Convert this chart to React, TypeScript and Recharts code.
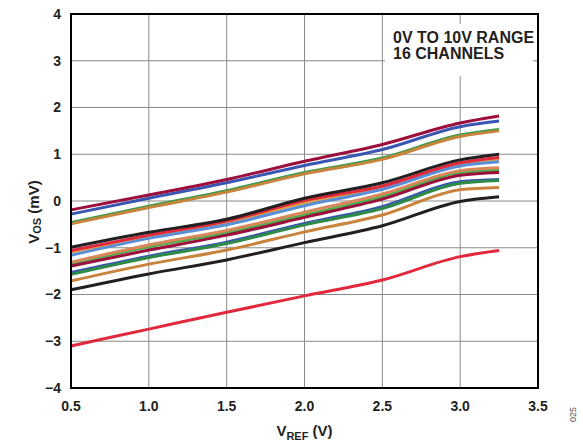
import React from "react";
import {
  LineChart,
  Line,
  XAxis,
  YAxis,
  CartesianGrid,
  ReferenceArea,
} from "recharts";

// VREF sample points (V)
const vref = [0.5, 1.0, 1.5, 2.0, 2.5, 3.0, 3.25];

const xTicks = [0.5, 1.0, 1.5, 2.0, 2.5, 3.0, 3.5];
const yTicks = [-4, -3, -2, -1, 0, 1, 2, 3, 4];

// VOS per channel (mV)
const ch01 = [-0.19, 0.13, 0.46, 0.85, 1.21, 1.67, 1.82];
const ch02 = [-0.28, 0.06, 0.39, 0.76, 1.1, 1.59, 1.71];
const ch03 = [-0.46, -0.11, 0.22, 0.61, 0.92, 1.41, 1.53];
const ch04 = [-0.49, -0.14, 0.19, 0.58, 0.89, 1.38, 1.5];
const ch05 = [-0.99, -0.67, -0.39, 0.06, 0.39, 0.88, 1.0];
const ch06 = [-1.09, -0.76, -0.46, -0.04, 0.29, 0.79, 0.9];
const ch07 = [-1.06, -0.73, -0.43, 0.01, 0.32, 0.82, 0.93];
const ch08 = [-1.16, -0.8, -0.51, -0.1, 0.25, 0.75, 0.84];
const ch09 = [-1.31, -0.94, -0.63, -0.24, 0.15, 0.65, 0.71];
const ch10 = [-1.35, -0.98, -0.68, -0.3, 0.09, 0.61, 0.66];
const ch11 = [-1.39, -1.05, -0.73, -0.35, 0.04, 0.55, 0.61];
const ch12 = [-1.53, -1.18, -0.88, -0.48, -0.12, 0.41, 0.46];
const ch13 = [-1.57, -1.21, -0.91, -0.51, -0.16, 0.38, 0.44];
const ch14 = [-1.71, -1.35, -1.05, -0.66, -0.3, 0.24, 0.29];
const ch15 = [-1.9, -1.56, -1.26, -0.89, -0.53, -0.01, 0.09];
const ch16 = [-3.1, -2.74, -2.38, -2.03, -1.69, -1.19, -1.06];

// draw order: bottom first
const channels = [
  { key: "ch03", values: ch03, color: "#3f9a4c" },
  { key: "ch04", values: ch04, color: "#c8843c" },
  { key: "ch02", values: ch02, color: "#3a56b2" },
  { key: "ch01", values: ch01, color: "#9c0e3b" },
  { key: "ch06", values: ch06, color: "#e0a040" },
  { key: "ch08", values: ch08, color: "#5b8ed6" },
  { key: "ch07", values: ch07, color: "#e2283c" },
  { key: "ch05", values: ch05, color: "#231f20" },
  { key: "ch10", values: ch10, color: "#4cae4c" },
  { key: "ch09", values: ch09, color: "#d9865a" },
  { key: "ch11", values: ch11, color: "#9c0e3b" },
  { key: "ch12", values: ch12, color: "#3a56b2" },
  { key: "ch13", values: ch13, color: "#2e8b47" },
  { key: "ch14", values: ch14, color: "#c8843c" },
  { key: "ch15", values: ch15, color: "#231f20" },
  { key: "ch16", values: ch16, color: "#e2283c" },
];

const data = vref.map((x, i) => {
  const row: Record<string, number> = { x };
  channels.forEach((c) => {
    row[c.key] = c.values[i];
  });
  return row;
});

const FONT = "'Liberation Sans', Arial, sans-serif";

const fmtY = (v: number) => (v < 0 ? `\u2212${Math.abs(v)}` : `${v}`);

function YLabel(props: any) {
  const { viewBox } = props;
  const cx = 33;
  const cy = viewBox.y + viewBox.height / 2 + 11;
  return (
    <text
      x={cx}
      y={cy}
      transform={`rotate(-90 ${cx} ${cy})`}
      textAnchor="middle"
      dominantBaseline="central"
      fontFamily={FONT}
      fontWeight="bold"
      fontSize={15}
      fill="#231f20"
    >
      <tspan>V</tspan>
      <tspan fontSize={11} dy={4}>
        OS
      </tspan>
      <tspan dy={-4}> (mV)</tspan>
    </text>
  );
}

function XLabel(props: any) {
  const { viewBox } = props;
  const cx = viewBox.x + viewBox.width / 2;
  const cy = 436;
  return (
    <text
      x={cx}
      y={cy}
      textAnchor="middle"
      fontFamily={FONT}
      fontWeight="bold"
      fontSize={15}
      fill="#231f20"
    >
      <tspan>V</tspan>
      <tspan fontSize={11} dy={4}>
        REF
      </tspan>
      <tspan dy={-4}> (V)</tspan>
    </text>
  );
}

export default function App() {
  return (
    <div
      style={{
        position: "absolute",
        left: 0,
        top: 0,
        width: 583,
        height: 446,
        background: "#fff",
      }}
    >
      <LineChart
        width={583}
        height={446}
        data={data}
        margin={{ top: 14, right: 45, bottom: 0, left: 11 }}
      >
        <CartesianGrid stroke="#8a8a8a" strokeWidth={1} />
        <XAxis
          dataKey="x"
          type="number"
          domain={[0.5, 3.5]}
          ticks={xTicks}
          tickFormatter={(v: number) => v.toFixed(1)}
          height={58}
          tickLine={false}
          tickMargin={7}
          axisLine={{ stroke: "#000", strokeWidth: 2 }}
          tick={{ fill: "#231f20", fontSize: 14, fontWeight: "bold", fontFamily: FONT }}
          label={<XLabel />}
        />
        <YAxis
          type="number"
          domain={[-4, 4]}
          ticks={yTicks}
          tickFormatter={fmtY}
          width={60}
          tickLine={false}
          tickMargin={4}
          axisLine={{ stroke: "#000", strokeWidth: 2 }}
          tick={{ fill: "#231f20", fontSize: 14, fontWeight: "bold", fontFamily: FONT }}
          label={<YLabel />}
        />
        {channels.map((c) => (
          <Line
            key={c.key}
            dataKey={c.key}
            stroke={c.color}
            strokeWidth={3}
            type="monotone"
            dot={false}
            isAnimationActive={false}
          />
        ))}
        <ReferenceArea
          x1={0.5}
          x2={3.5}
          y1={-4}
          y2={4}
          fill="none"
          fillOpacity={0}
          stroke="#000"
          strokeWidth={2}
        />
      </LineChart>
      <div
        style={{
          position: "absolute",
          left: 385,
          top: 24,
          width: 148,
          height: 52,
          background: "#fff",
          fontFamily: FONT,
          fontWeight: "bold",
          fontSize: 16,
          lineHeight: "16px",
          color: "#231f20",
          paddingLeft: 8,
          paddingTop: 6,
          boxSizing: "border-box",
          whiteSpace: "nowrap",
        }}
      >
        0V TO 10V RANGE
        <br />
        16 CHANNELS
      </div>
      <div
        style={{
          position: "absolute",
          left: 568,
          top: 422,
          fontFamily: FONT,
          fontSize: 9,
          color: "#555",
          transform: "rotate(-90deg)",
          transformOrigin: "left top",
        }}
      >
        025
      </div>
    </div>
  );
}
